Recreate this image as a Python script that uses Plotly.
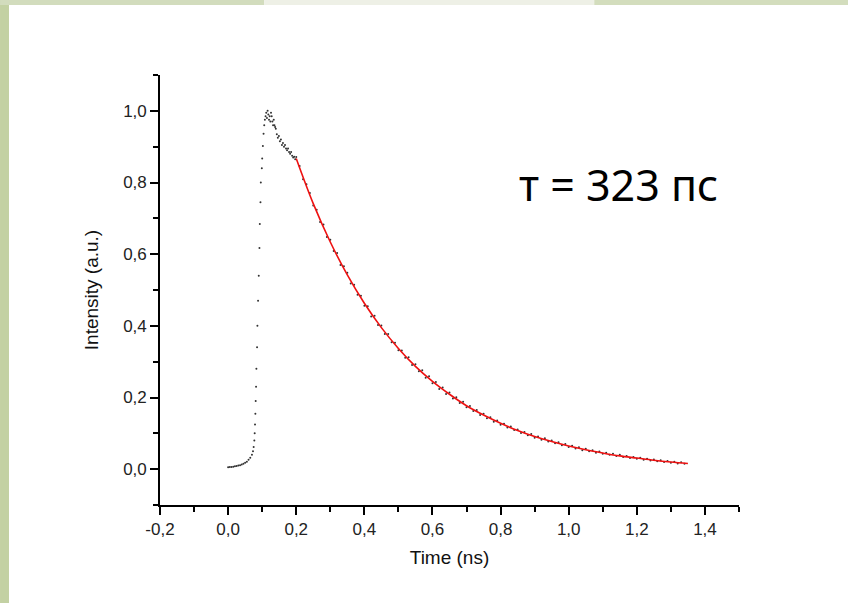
import plotly.graph_objects as go

# ---- measured data (black dots) ----
rise_t = [0.000, 0.005, 0.010, 0.015, 0.020, 0.025, 0.030, 0.035, 0.040, 0.045, 0.050, 0.055,
          0.060, 0.065, 0.070, 0.073, 0.075, 0.077, 0.078, 0.079, 0.080, 0.081, 0.082, 0.083,
          0.085, 0.086, 0.088, 0.090, 0.092, 0.093, 0.095, 0.096, 0.099, 0.100, 0.102, 0.104,
          0.106, 0.108, 0.110, 0.112, 0.114, 0.116, 0.118, 0.120, 0.122, 0.124, 0.126, 0.128,
          0.130, 0.132, 0.134, 0.136, 0.138, 0.140, 0.143, 0.146, 0.149, 0.152, 0.155, 0.158,
          0.161, 0.164, 0.167, 0.170, 0.173, 0.176, 0.179, 0.182, 0.185, 0.188, 0.191, 0.194, 0.197]
rise_i = [0.005, 0.006, 0.006, 0.007, 0.008, 0.009, 0.010, 0.011, 0.013, 0.015, 0.018, 0.021,
          0.026, 0.032, 0.040, 0.050, 0.062, 0.080, 0.100, 0.125, 0.155, 0.190, 0.230, 0.280,
          0.340, 0.400, 0.470, 0.540, 0.617, 0.684, 0.745, 0.800, 0.840, 0.867, 0.902, 0.936,
          0.960, 0.975, 0.985, 0.995, 0.980, 1.000, 0.990, 0.975, 0.985, 0.970, 0.995, 0.985,
          0.970, 0.960, 0.975, 0.960, 0.955, 0.950, 0.935, 0.925, 0.930, 0.915, 0.920, 0.905,
          0.910, 0.900, 0.905, 0.895, 0.890, 0.895, 0.885, 0.880, 0.885, 0.875, 0.870, 0.872, 0.865]

decay_t = [0.20, 0.21, 0.22, 0.23, 0.24, 0.25, 0.26, 0.27, 0.28, 0.29, 0.30, 0.31, 0.32, 0.33,
           0.34, 0.35, 0.36, 0.37, 0.38, 0.39, 0.40, 0.41, 0.42, 0.43, 0.44, 0.45, 0.46, 0.47,
           0.48, 0.49, 0.50, 0.51, 0.52, 0.53, 0.54, 0.55, 0.56, 0.57, 0.58, 0.59, 0.60, 0.61,
           0.62, 0.63, 0.64, 0.65, 0.66, 0.67, 0.68, 0.69, 0.70, 0.71, 0.72, 0.73, 0.74, 0.75,
           0.76, 0.77, 0.78, 0.79, 0.80, 0.81, 0.82, 0.83, 0.84, 0.85, 0.86, 0.87, 0.88, 0.89,
           0.90, 0.91, 0.92, 0.93, 0.94, 0.95, 0.96, 0.97, 0.98, 0.99, 1.00, 1.01, 1.02, 1.03,
           1.04, 1.05, 1.06, 1.07, 1.08, 1.09, 1.10, 1.11, 1.12, 1.13, 1.14, 1.15, 1.16, 1.17,
           1.18, 1.19, 1.20, 1.21, 1.22, 1.23, 1.24, 1.25, 1.26, 1.27, 1.28, 1.29, 1.30, 1.31,
           1.32, 1.33, 1.34]
decay_i = [0.871, 0.846, 0.809, 0.795, 0.771, 0.736, 0.724, 0.690, 0.683, 0.648, 0.640, 0.609,
           0.603, 0.570, 0.566, 0.548, 0.518, 0.515, 0.487, 0.484, 0.456, 0.455, 0.426, 0.428,
           0.402, 0.401, 0.377, 0.377, 0.354, 0.353, 0.332, 0.331, 0.311, 0.312, 0.291, 0.293,
           0.273, 0.276, 0.255, 0.259, 0.240, 0.243, 0.224, 0.228, 0.210, 0.214, 0.197, 0.201,
           0.185, 0.188, 0.173, 0.176, 0.162, 0.165, 0.151, 0.155, 0.142, 0.145, 0.132, 0.136,
           0.124, 0.127, 0.116, 0.119, 0.109, 0.111, 0.101, 0.104, 0.095, 0.098, 0.088, 0.091,
           0.082, 0.086, 0.077, 0.080, 0.072, 0.075, 0.067, 0.070, 0.062, 0.065, 0.058, 0.061,
           0.053, 0.057, 0.050, 0.053, 0.046, 0.049, 0.043, 0.046, 0.040, 0.043, 0.037, 0.040,
           0.034, 0.037, 0.031, 0.034, 0.029, 0.032, 0.026, 0.029, 0.024, 0.027, 0.022, 0.025,
           0.020, 0.023, 0.018, 0.021, 0.016, 0.019, 0.015]

# ---- exponential fit (red line) ----
fit_t = [0.20, 0.25, 0.30, 0.35, 0.40, 0.45, 0.50, 0.55, 0.60, 0.65, 0.70, 0.75, 0.80, 0.85,
         0.90, 0.95, 1.00, 1.05, 1.10, 1.15, 1.20, 1.25, 1.30, 1.35]
fit_i = [0.867, 0.741, 0.634, 0.542, 0.463, 0.395, 0.337, 0.287, 0.245, 0.209, 0.177, 0.151,
         0.128, 0.108, 0.091, 0.077, 0.0645, 0.054, 0.045, 0.037, 0.031, 0.025, 0.020, 0.016]

# ---- tick labels ----
x_tickvals = [-0.2, 0.0, 0.2, 0.4, 0.6, 0.8, 1.0, 1.2, 1.4]
x_ticktext = ["-0,2", "0,0", "0,2", "0,4", "0,6", "0,8", "1,0", "1,2", "1,4"]
y_tickvals = [0.0, 0.2, 0.4, 0.6, 0.8, 1.0]
y_ticktext = ["0,0", "0,2", "0,4", "0,6", "0,8", "1,0"]

annotation_text = "т = 323 пс"

FONT = "Liberation Sans, Arial, sans-serif"

fig = go.Figure()
fig.add_trace(go.Scatter(x=rise_t + decay_t, y=rise_i + decay_i, mode="markers",
                         marker=dict(size=2, color="#333333"), showlegend=False))
fig.add_trace(go.Scatter(x=fit_t, y=fit_i, mode="lines",
                         line=dict(color="#ee1111", width=1.6, shape="spline"),
                         showlegend=False))

axis_common = dict(showline=True, linecolor="black", linewidth=1.6, ticks="outside", ticklen=8,
                   tickwidth=1.5, tickcolor="black", showgrid=False, zeroline=False,
                   tickfont=dict(family=FONT, size=17, color="#222222"))

fig.update_xaxes(range=[-0.2, 1.5], tickmode="array", tickvals=x_tickvals, ticktext=x_ticktext,
                 minor=dict(ticks="outside", dtick=0.1, tick0=-0.2, ticklen=5, tickwidth=1.5,
                            tickcolor="black"),
                 title=dict(text="Time (ns)", font=dict(family=FONT, size=19, color="#111111"),
                            standoff=12),
                 **axis_common)
fig.update_yaxes(range=[-0.1, 1.1], tickmode="array", tickvals=y_tickvals, ticktext=y_ticktext,
                 minor=dict(ticks="outside", dtick=0.1, tick0=0, ticklen=5, tickwidth=1.5,
                            tickcolor="black"),
                 title=dict(text="Intensity (a.u.)", font=dict(family=FONT, size=19, color="#111111"),
                            standoff=20),
                 **axis_common)

fig.add_annotation(x=1.145, y=0.795, xref="x", yref="y", text=annotation_text, showarrow=False,
                   font=dict(family="Noto Sans, Open Sans", size=43, color="black"))

# slide border decoration (green frame strips)
shapes = [
    dict(type="rect", xref="paper", yref="paper", x0=-0.2763, x1=-0.2608, y0=-0.23, y1=1.175,
         fillcolor="#c3d1a3", line=dict(width=0), layer="below"),
    dict(type="rect", xref="paper", yref="paper", x0=-0.2763, x1=0.18, y0=1.1628, y1=1.175,
         fillcolor="#d2dcbd", line=dict(width=0), layer="below"),
    dict(type="rect", xref="paper", yref="paper", x0=0.18, x1=0.75, y0=1.1628, y1=1.175,
         fillcolor="#eef0e6", line=dict(width=0), layer="below"),
    dict(type="rect", xref="paper", yref="paper", x0=0.75, x1=1.2, y0=1.1628, y1=1.175,
         fillcolor="#d3ddbd", line=dict(width=0), layer="below"),
]

fig.update_layout(width=848, height=603, margin=dict(l=160, r=109, t=75, b=98),
                  paper_bgcolor="white", plot_bgcolor="white",
                  shapes=shapes, showlegend=False)

fig.write_html("out.html")
